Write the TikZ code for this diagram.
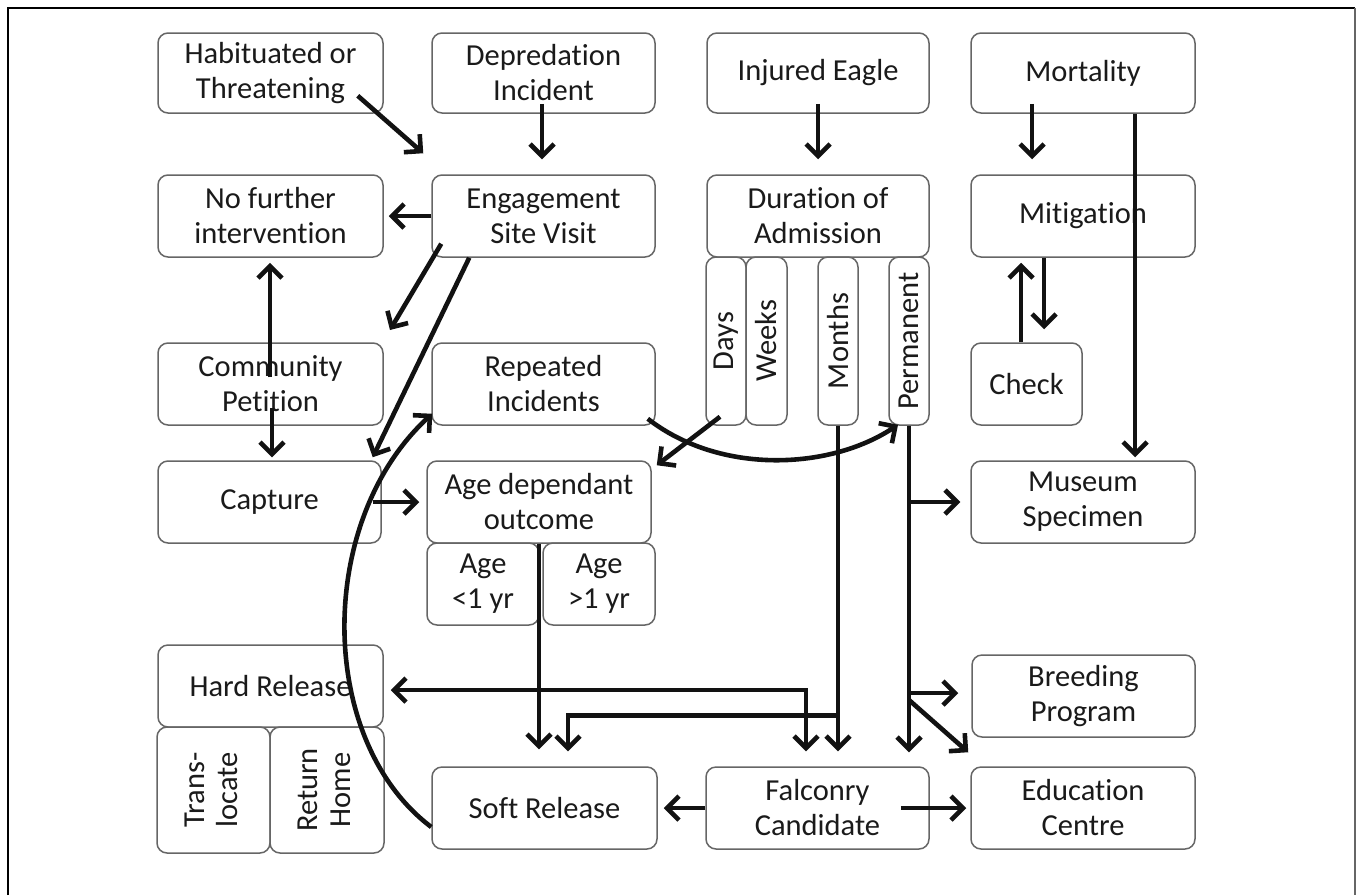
\documentclass[tikz,border=0pt]{standalone}
\usepackage{fontspec}
\usepackage{graphicx}
\setmainfont{Carlito}[Ligatures=NoCommon]
\usetikzlibrary{arrows.meta,calc}
\definecolor{boxline}{HTML}{666666}
\definecolor{txt}{HTML}{1A1A1A}
\definecolor{arrcol}{HTML}{121212}
\tikzset{
  box/.style={draw=boxline, line width=1.5pt, rounded corners=10pt, align=center,
    text=txt, inner sep=0pt, font=\fontsize{30.5}{35}\selectfont,
    minimum width=#1},
  box/.default=224pt,
  hb/.style={minimum height=82pt},
  arr/.style={draw=arrcol, line width=4.6pt, -{Straight Barb[length=12pt,width=24pt,line width=4.6pt]}},
  arrtwo/.style={draw=arrcol, line width=4.6pt,
    {Straight Barb[length=12pt,width=24pt,line width=4.6pt]}-{Straight Barb[length=12pt,width=24pt,line width=4.6pt]}}
}
\begin{document}
\begin{tikzpicture}[x=1pt,y=-1pt]
\useasboundingbox (0,0) rectangle (1358,895);
\draw[black, line width=1.5pt] (8,895) -- (8,8) -- (1355,8);
\draw[boxline, line width=2pt] (1355,8) -- (1355,895);
% row 1
\node[box=225pt, minimum height=80pt] (hab) at (270.5,73) {Habituated or\\Threatening};
\node[box=223pt, minimum height=80pt] (dep) at (543.5,73) {Depredation\\Incident};
\node[box=222pt, minimum height=80pt] (inj) at (818,73) {Injured Eagle};
\node[box=224pt, minimum height=80pt] (mort) at (1083,73) {Mortality};
% row 2
\node[box=225pt, hb] (nofur) at (270.5,216) {No further\\intervention};
\node[box=223pt, hb] (eng) at (543.5,216) {Engagement\\Site Visit};
\node[box=222pt, hb] (dur) at (818,216) {Duration of\\Admission};
\node[box=224pt, hb] (mit) at (1083,216) {Mitigation};
% duration sub boxes
\node[box=40pt, minimum height=168pt] (days) at (726,341) {\rotatebox{90}{Days}};
\node[box=41pt, minimum height=168pt] (weeks) at (766.5,341) {\rotatebox{90}{Weeks}};
\node[box=40pt, minimum height=168pt] (months) at (838,341) {\rotatebox{90}{Months}};
\node[box=40pt, minimum height=168pt] (perm) at (909,341) {\rotatebox{90}{Permanent}};
% row 3
\node[box=225pt, hb] (comm) at (270.5,384) {Community\\Petition};
\node[box=223pt, hb] (rep) at (543.5,384) {Repeated\\Incidents};
\node[box=111pt, hb] (check) at (1026.5,384) {Check};
% row 4
\node[box=223pt, hb] (capture) at (269.5,502) {Capture};
\node[box=224pt, hb] (agedep) at (539,502) {Age dependant\\outcome};
\node[box=224pt, hb] (museum) at (1083,502) {Museum\\Specimen};
\node[box=112pt, hb] (ageone) at (483,584) {Age\\<1 yr};
\node[box=112pt, hb] (agetwo) at (599,584) {Age\\>1 yr};
% row 5
\node[box=225pt, hb] (hard) at (270.5,686) {Hard Release};
\node[box=113pt, minimum height=126pt] (trans) at (213.5,790) {\rotatebox{90}{\begin{tabular}{@{}c@{}}Trans-\\[-2pt]locate\end{tabular}}};
\node[box=114pt, minimum height=126pt] (ret) at (327,790) {\rotatebox{90}{\begin{tabular}{@{}c@{}}Return\\[-2pt]Home\end{tabular}}};
\node[box=223pt, hb] (breed) at (1083.5,696) {Breeding\\Program};
% row 6
\node[box=225pt, hb] (soft) at (544.5,808) {Soft Release};
\node[box=223pt, hb] (falc) at (817.5,808) {Falconry\\Candidate};
\node[box=224pt, hb] (edu) at (1083,808) {Education\\Centre};
\coordinate (free) at (390,330);
% connectors
\draw[arr] ([xshift=-26pt,yshift=18pt]hab.south east) -- ([xshift=-8pt,yshift=21pt]eng.north west);
\draw[arr] ([xshift=-1.5pt,yshift=10pt]dep.south) -- ([xshift=-1.5pt,yshift=15pt]eng.north);
\draw[arr] (eng.west) -- ([xshift=5pt]nofur.east);
\draw[arr] ([xshift=10pt,yshift=14pt]eng.south west) -- (free);
\draw[arr] ([xshift=38pt]eng.south west) -- ([xshift=-9pt,yshift=3pt]capture.north east);
\draw[arr] ([xshift=-0.5pt,yshift=-35pt]comm.north) -- ([xshift=-0.5pt,yshift=-5pt]nofur.south);
\draw[arr] ([xshift=1.5pt,yshift=18pt]comm.south) -- ([xshift=2.5pt,yshift=3pt]capture.north);
\draw[arr] ([xshift=-9pt]capture.east) -- ([xshift=-7pt]agedep.west);
\draw[arr] ([yshift=-19pt]soft.west) .. controls (316,740) and (316,520) .. ([xshift=1pt,yshift=12pt]rep.south west);
\draw[arr] ([xshift=-8pt,yshift=7pt]rep.south east) .. controls (720,475) and (830,470) .. ([xshift=-11pt,yshift=1pt]perm.south);
\draw[arr] ([xshift=-6pt,yshift=9pt]days.south) -- ([xshift=5pt,yshift=-5pt]agedep.north east);
\draw[arr] (months.south) -- ($(months.south |- falc.north)+(0,-15)$);
\draw[arr] ($(months.south)+(0,290)$) -| ($(soft.north)+(23.5,-15)$);
\draw[arrtwo] ([xshift=7pt,yshift=-4pt]hard.east) -| ($(falc.north)+(-11.5,-15)$);
\draw[arr] (agedep.south) -- ($(agedep.south |- soft.north)+(0,-17)$);
\draw[arr] (perm.south) -- ($(perm.south |- falc.north)+(0,-14)$);
\draw[arr] (perm.south |- museum.west) -- ([xshift=-10pt]museum.west);
\draw[arr] ($(perm.south |- breed.west)+(0,-3)$) -- ([xshift=-13pt,yshift=3pt]breed.west);
\draw[arr] ($(perm.south |- breed.west)+(0,4)$) -- ($(edu.north west)+(-2,-14)$);
\draw[arr] (falc.west) -- ([xshift=6pt]soft.east);
\draw[arr] ([xshift=-29pt]falc.east) -- ([xshift=-4pt]edu.west);
\draw[arr] ([yshift=10pt]inj.south) -- ([yshift=15pt]dur.north);
\draw[arr] ([xshift=-51pt,yshift=10pt]mort.south) -- ([xshift=-51pt,yshift=15pt]mit.north);
\draw[arr] ([xshift=52pt]mort.south) -- ([xshift=52pt,yshift=3pt]museum.north);
\draw[arr] ([xshift=-5.5pt]check.north) -- ([xshift=-62pt,yshift=-5pt]mit.south);
\draw[arr] ([xshift=-39pt]mit.south) -- ([xshift=17.5pt,yshift=13pt]check.north);
\end{tikzpicture}
\end{document}
